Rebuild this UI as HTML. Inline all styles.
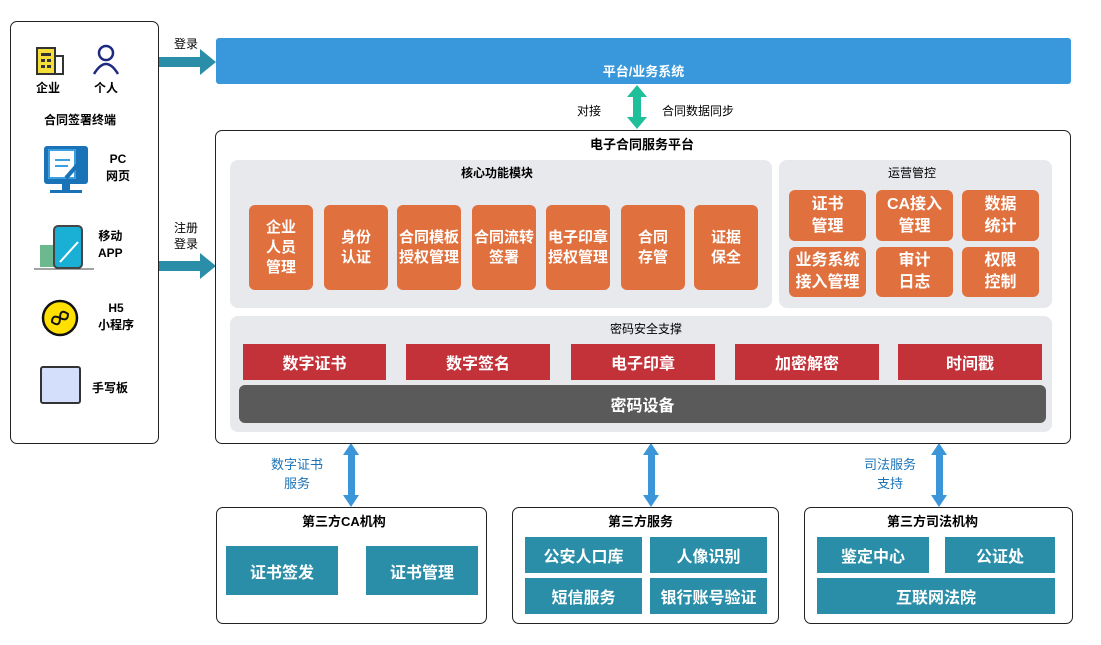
<!DOCTYPE html>
<html><head><meta charset="utf-8"><style>
*{margin:0;padding:0;box-sizing:border-box}
body{width:1101px;height:645px;background:#fff;position:relative;overflow:hidden;font-family:"Liberation Sans","Noto Sans CJK SC",sans-serif;}
.a{position:absolute}
.c{display:flex;align-items:center;justify-content:center;text-align:center}
.or{background:#e0703d;color:#fff;font-weight:bold;font-size:15px;line-height:20px;border-radius:6px;}
.rd{background:#c33139;color:#fff;font-weight:bold;font-size:16px;}
.tl{background:#2a8ea8;color:#fff;font-weight:bold;font-size:16px;}
.gr{background:#e8e9ed;border-radius:8px}
.t{font-size:12px;color:#000;font-weight:bold}
.bx{border:1px solid #222;border-radius:7px;background:#fff}
</style></head><body>
<!-- left panel -->
<div class="a bx" style="left:10px;top:21px;width:149px;height:423px"></div>
<svg class="a" style="left:0;top:0" width="1101" height="645">
 <!-- building -->
 <rect x="37" y="48" width="18" height="26" fill="#f6de3a" stroke="#333" stroke-width="2"/>
 <rect x="55" y="56" width="8" height="18" fill="none" stroke="#333" stroke-width="2"/>
 <rect x="41" y="53" width="10" height="3" fill="#333"/>
 <rect x="41" y="59" width="4" height="3" fill="#333"/><rect x="47" y="59" width="4" height="3" fill="#333"/>
 <rect x="41" y="65" width="4" height="3" fill="#333"/><rect x="47" y="65" width="4" height="3" fill="#333"/>
 <!-- person -->
 <circle cx="106" cy="53" r="7" fill="none" stroke="#1d2a80" stroke-width="2.5"/>
 <path d="M94 74 Q106 54 118 74" fill="none" stroke="#1d2a80" stroke-width="2.5"/>
 <!-- monitor -->
 <rect x="44" y="146" width="44" height="38" rx="3" fill="#1b73b7"/>
 <rect x="49" y="150" width="26" height="28" fill="#fff" stroke="#3ba0e0" stroke-width="2"/>
 <line x1="55" y1="160" x2="70" y2="160" stroke="#3ba0e0" stroke-width="2"/>
 <line x1="55" y1="166" x2="68" y2="166" stroke="#3ba0e0" stroke-width="2"/>
 <line x1="66" y1="178" x2="80" y2="162" stroke="#1b73b7" stroke-width="4"/>
 <rect x="62" y="184" width="8" height="6" fill="#1b73b7"/>
 <rect x="50" y="190" width="32" height="3" fill="#1b73b7"/>
 <!-- phone -->
 <rect x="40" y="245" width="14" height="22" fill="#6cb98f"/>
 <rect x="54" y="226" width="28" height="42" rx="4" fill="#1ab0d6" stroke="#444" stroke-width="2"/>
 <line x1="60" y1="262" x2="78" y2="242" stroke="#fff" stroke-width="2"/>
 <line x1="34" y1="269" x2="94" y2="269" stroke="#444" stroke-width="1"/>
 <!-- h5 -->
 <circle cx="60" cy="318" r="17" fill="#ffe000" stroke="#111" stroke-width="2.5"/>
 <path d="M52 322 q0 -8 8 -4 q8 4 8 -4 q-8 -6 -8 4 q0 10 -8 4z" fill="none" stroke="#111" stroke-width="2"/>
 <!-- tablet -->
 <rect x="41" y="367" width="39" height="36" rx="2" fill="#d4dffb" stroke="#333" stroke-width="2"/>
 <!-- left arrows -->
 <rect x="159" y="57" width="43" height="10" fill="#2a8ea8"/><polygon points="200,49 216,62 200,75" fill="#2a8ea8"/>
 <rect x="159" y="261" width="43" height="10" fill="#2a8ea8"/><polygon points="200,253 216,266 200,279" fill="#2a8ea8"/>
 <!-- green arrow -->
 <rect x="633" y="96" width="8" height="22" fill="#1fbf9a"/>
 <polygon points="637,85 627,97 647,97" fill="#1fbf9a"/><polygon points="637,129 627,117 647,117" fill="#1fbf9a"/>
 <!-- blue arrows -->
 <g fill="#3b96d9">
  <rect x="348" y="452" width="7" height="46"/><polygon points="351,443 343,455 359,455"/><polygon points="351,507 343,495 359,495"/>
  <rect x="648" y="452" width="7" height="46"/><polygon points="651,443 643,455 659,455"/><polygon points="651,507 643,495 659,495"/>
  <rect x="936" y="452" width="7" height="46"/><polygon points="939,443 931,455 947,455"/><polygon points="939,507 931,495 947,495"/>
 </g>
</svg>
<div class="a t" style="left:36px;top:79px">企业</div>
<div class="a t" style="left:94px;top:79px">个人</div>
<div class="a t" style="left:44px;top:111px">合同签署终端</div>
<div class="a t" style="left:106px;top:151px;text-align:center;line-height:17px">PC<br>网页</div>
<div class="a t" style="left:98px;top:228px;text-align:center;line-height:17px">移动<br>APP</div>
<div class="a t" style="left:98px;top:300px;text-align:center;line-height:17px">H5<br>小程序</div>
<div class="a t" style="left:92px;top:379px">手写板</div>
<div class="a" style="left:174px;top:35px;font-size:12px">登录</div>
<div class="a" style="left:174px;top:220px;font-size:12px;line-height:16px">注册<br>登录</div>
<!-- top bar -->
<div class="a c" style="left:216px;top:38px;width:855px;height:46px;background:#3898db;border-radius:3px;color:#fff;font-weight:bold;font-size:13px;padding-top:18px">平台/业务系统</div>
<div class="a" style="left:577px;top:102px;font-size:12px">对接</div>
<div class="a" style="left:662px;top:102px;font-size:12px">合同数据同步</div>
<!-- main -->
<div class="a bx" style="left:215px;top:130px;width:856px;height:314px"></div>
<div class="a t" style="left:590px;top:134px;font-size:13px">电子合同服务平台</div>
<div class="a gr" style="left:230px;top:160px;width:542px;height:148px"></div>
<div class="a t" style="left:461px;top:164px">核心功能模块</div>
<div class="a c or" style="left:249px;top:205px;width:64px;height:85px">企业<br>人员<br>管理</div>
<div class="a c or" style="left:324px;top:205px;width:64px;height:85px">身份<br>认证</div>
<div class="a c or" style="left:397px;top:205px;width:64px;height:85px">合同模板<br>授权管理</div>
<div class="a c or" style="left:472px;top:205px;width:64px;height:85px">合同流转<br>签署</div>
<div class="a c or" style="left:546px;top:205px;width:64px;height:85px">电子印章<br>授权管理</div>
<div class="a c or" style="left:621px;top:205px;width:64px;height:85px">合同<br>存管</div>
<div class="a c or" style="left:694px;top:205px;width:64px;height:85px">证据<br>保全</div>
<div class="a gr" style="left:779px;top:160px;width:273px;height:148px"></div>
<div class="a t" style="left:888px;top:164px;font-weight:normal">运营管控</div>
<div class="a c or" style="left:789px;top:190px;width:77px;height:51px;font-size:16px;line-height:22px">证书<br>管理</div>
<div class="a c or" style="left:876px;top:190px;width:77px;height:51px;font-size:16px;line-height:22px">CA接入<br>管理</div>
<div class="a c or" style="left:962px;top:190px;width:77px;height:51px;font-size:16px;line-height:22px">数据<br>统计</div>
<div class="a c or" style="left:789px;top:247px;width:77px;height:50px;font-size:16px;line-height:22px">业务系统<br>接入管理</div>
<div class="a c or" style="left:876px;top:247px;width:77px;height:50px;font-size:16px;line-height:22px">审计<br>日志</div>
<div class="a c or" style="left:962px;top:247px;width:77px;height:50px;font-size:16px;line-height:22px">权限<br>控制</div>
<div class="a gr" style="left:230px;top:316px;width:822px;height:116px"></div>
<div class="a t" style="left:610px;top:320px;font-weight:normal">密码安全支撑</div>
<div class="a c rd" style="left:243px;top:344px;width:143px;height:36px">数字证书</div>
<div class="a c rd" style="left:406px;top:344px;width:144px;height:36px">数字签名</div>
<div class="a c rd" style="left:571px;top:344px;width:144px;height:36px">电子印章</div>
<div class="a c rd" style="left:735px;top:344px;width:144px;height:36px">加密解密</div>
<div class="a c rd" style="left:898px;top:344px;width:144px;height:36px">时间戳</div>
<div class="a c" style="left:239px;top:385px;width:807px;height:38px;background:#5a5a5a;border-radius:6px;color:#fff;font-weight:bold;font-size:16px">密码设备</div>
<!-- arrow labels -->
<div class="a" style="left:271px;top:455px;font-size:13px;color:#1b73b7;text-align:center;line-height:19px">数字证书<br>服务</div>
<div class="a" style="left:864px;top:455px;font-size:13px;color:#1b73b7;text-align:center;line-height:19px">司法服务<br>支持</div>
<!-- bottom -->
<div class="a bx" style="left:216px;top:507px;width:271px;height:117px"></div>
<div class="a t" style="left:302px;top:511px;font-size:13px">第三方CA机构</div>
<div class="a c tl" style="left:226px;top:546px;width:112px;height:49px">证书签发</div>
<div class="a c tl" style="left:366px;top:546px;width:112px;height:49px">证书管理</div>
<div class="a bx" style="left:512px;top:507px;width:267px;height:117px"></div>
<div class="a t" style="left:608px;top:511px;font-size:13px">第三方服务</div>
<div class="a c tl" style="left:525px;top:537px;width:117px;height:36px">公安人口库</div>
<div class="a c tl" style="left:650px;top:537px;width:117px;height:36px">人像识别</div>
<div class="a c tl" style="left:525px;top:578px;width:117px;height:36px">短信服务</div>
<div class="a c tl" style="left:650px;top:578px;width:117px;height:36px">银行账号验证</div>
<div class="a bx" style="left:804px;top:507px;width:269px;height:117px"></div>
<div class="a t" style="left:887px;top:511px;font-size:13px">第三方司法机构</div>
<div class="a c tl" style="left:817px;top:537px;width:112px;height:36px">鉴定中心</div>
<div class="a c tl" style="left:945px;top:537px;width:110px;height:36px">公证处</div>
<div class="a c tl" style="left:817px;top:578px;width:238px;height:36px">互联网法院</div>
</body></html>
